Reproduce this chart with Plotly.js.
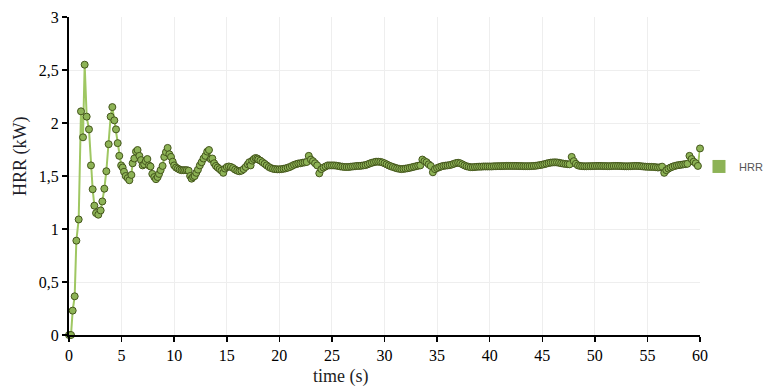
<!DOCTYPE html>
<html>
<head>
<meta charset="utf-8">
<script src="https://cdn.plot.ly/plotly-3.0.1.min.js"></script>
<style>html,body{margin:0;padding:0;background:#fff}#chart{width:765px;height:387px}</style>
</head>
<body>
<div id="chart"></div>
<script>
// Ignition / rise phase (0-5 s)
var timeRise = [0, 0.19, 0.35, 0.54, 0.70, 0.92, 1.14, 1.33, 1.49, 1.68,
  1.90, 2.09, 2.25, 2.41, 2.57, 2.79, 3.01, 3.17, 3.36, 3.55,
  3.77, 3.96, 4.12, 4.31, 4.47, 4.63, 4.78, 4.96];
var hrrRise = [0, 0, 0.23, 0.365, 0.89, 1.09, 2.11, 1.865, 2.55, 2.06,
  1.94, 1.60, 1.375, 1.22, 1.15, 1.135, 1.175, 1.26, 1.38, 1.545,
  1.80, 2.06, 2.15, 2.025, 1.94, 1.81, 1.69, 1.60];

// Damped oscillation phase (5-18 s)
var timeOsc = [5.10, 5.23, 5.39, 5.58, 5.74, 5.93, 6.05, 6.21, 6.37, 6.52,
  6.69, 6.85, 7.00, 7.15, 7.30, 7.45, 7.60, 7.75, 7.92, 8.11,
  8.27, 8.43, 8.56, 8.71, 8.90, 9.06, 9.22, 9.38, 9.54, 9.70,
  9.86, 10.00, 10.18, 10.35, 10.52, 10.70, 10.87, 11.04, 11.21, 11.38,
  11.52, 11.66, 11.80, 11.95, 12.10, 12.26, 12.44, 12.61, 12.79, 12.97,
  13.14, 13.31, 13.47, 13.63, 13.80, 13.97, 14.14, 14.32, 14.50, 14.67,
  14.84, 15.01, 15.20, 15.40, 15.60, 15.80, 16.00, 16.20, 16.40, 16.60,
  16.80, 17.00, 17.14, 17.27, 17.42, 17.58, 17.74, 17.90];
var hrrOsc = [1.58, 1.54, 1.50, 1.48, 1.46, 1.51, 1.62, 1.665, 1.73, 1.745,
  1.69, 1.65, 1.60, 1.61, 1.64, 1.66, 1.60, 1.59, 1.52, 1.49,
  1.47, 1.49, 1.52, 1.555, 1.595, 1.68, 1.725, 1.765, 1.705, 1.68,
  1.635, 1.60, 1.58, 1.57, 1.56, 1.555, 1.555, 1.555, 1.555, 1.55,
  1.50, 1.475, 1.49, 1.50, 1.53, 1.56, 1.60, 1.63, 1.665, 1.69,
  1.73, 1.745, 1.66, 1.665, 1.62, 1.595, 1.58, 1.565, 1.55, 1.53,
  1.57, 1.585, 1.59, 1.585, 1.575, 1.56, 1.55, 1.545, 1.55, 1.565,
  1.585, 1.61, 1.63, 1.60, 1.645, 1.66, 1.67, 1.665];

// Quasi-steady phase (18-60 s)
var timeSteady = [18.0, 18.2, 18.4, 18.6, 18.8, 19.0, 19.2, 19.4, 19.6, 19.8,
  20.0, 20.2, 20.4, 20.6, 20.8, 21.0, 21.2, 21.4, 21.6, 21.8,
  22.0, 22.2, 22.4, 22.6, 22.8, 23.0, 23.2, 23.4, 23.6, 23.8,
  24.0, 24.2, 24.4, 24.6, 24.8, 25.0, 25.2, 25.4, 25.6, 25.8,
  26.0, 26.2, 26.4, 26.6, 26.8, 27.0, 27.2, 27.4, 27.6, 27.8,
  28.0, 28.2, 28.4, 28.6, 28.8, 29.0, 29.2, 29.4, 29.6, 29.8,
  30.0, 30.2, 30.4, 30.6, 30.8, 31.0, 31.2, 31.4, 31.6, 31.8,
  32.0, 32.2, 32.4, 32.6, 32.8, 33.0, 33.2, 33.4, 33.6, 33.8,
  34.0, 34.2, 34.4, 34.6, 34.8, 35.0, 35.2, 35.4, 35.6, 35.8,
  36.0, 36.2, 36.4, 36.6, 36.8, 37.0, 37.2, 37.4, 37.6, 37.8,
  38.0, 38.2, 38.4, 38.6, 38.8, 39.0, 39.2, 39.4, 39.6, 39.8,
  40.0, 40.2, 40.4, 40.6, 40.8, 41.0, 41.2, 41.4, 41.6, 41.8,
  42.0, 42.2, 42.4, 42.6, 42.8, 43.0, 43.2, 43.4, 43.6, 43.8,
  44.0, 44.2, 44.4, 44.6, 44.8, 45.0, 45.2, 45.4, 45.6, 45.8,
  46.0, 46.2, 46.4, 46.6, 46.8, 47.0, 47.2, 47.4, 47.6, 47.8,
  48.0, 48.2, 48.4, 48.6, 48.8, 49.0, 49.2, 49.4, 49.6, 49.8,
  50.0, 50.2, 50.4, 50.6, 50.8, 51.0, 51.2, 51.4, 51.6, 51.8,
  52.0, 52.2, 52.4, 52.6, 52.8, 53.0, 53.2, 53.4, 53.6, 53.8,
  54.0, 54.2, 54.4, 54.6, 54.8, 55.0, 55.2, 55.4, 55.6, 55.8,
  56.0, 56.2, 56.4, 56.6, 56.8, 57.0, 57.2, 57.4, 57.6, 57.8,
  58.0, 58.2, 58.4, 58.6, 58.8, 59.0, 59.2, 59.4, 59.6, 59.8,
  60.0];
var hrrSteady = [1.655, 1.645, 1.63, 1.615, 1.60, 1.585, 1.575, 1.568, 1.565, 1.563,
  1.563, 1.565, 1.568, 1.572, 1.578, 1.585, 1.595, 1.605, 1.612, 1.618,
  1.62, 1.625, 1.628, 1.632, 1.69, 1.655, 1.64, 1.62, 1.60, 1.525,
  1.565, 1.58, 1.59, 1.60, 1.60, 1.60, 1.60, 1.598, 1.595, 1.59,
  1.588, 1.585, 1.585, 1.585, 1.588, 1.59, 1.592, 1.595, 1.595, 1.597,
  1.60, 1.603, 1.61, 1.618, 1.625, 1.63, 1.635, 1.635, 1.633, 1.628,
  1.62, 1.61, 1.60, 1.592, 1.585, 1.578, 1.572, 1.568, 1.565, 1.567,
  1.57, 1.573, 1.577, 1.582, 1.587, 1.592, 1.597, 1.60, 1.655, 1.64,
  1.63, 1.61, 1.595, 1.535, 1.565, 1.575, 1.583, 1.59, 1.595, 1.598,
  1.60, 1.603, 1.608, 1.615, 1.622, 1.625, 1.62, 1.61, 1.60, 1.592,
  1.587, 1.583, 1.583, 1.585, 1.587, 1.588, 1.588, 1.59, 1.59, 1.59,
  1.59, 1.59, 1.592, 1.592, 1.593, 1.593, 1.594, 1.594, 1.595, 1.595,
  1.595, 1.595, 1.595, 1.595, 1.594, 1.594, 1.593, 1.593, 1.593, 1.593,
  1.594, 1.595, 1.597, 1.60, 1.603, 1.607, 1.612, 1.617, 1.622, 1.626,
  1.628, 1.629, 1.628, 1.625, 1.62, 1.617, 1.614, 1.612, 1.61, 1.68,
  1.64, 1.615, 1.60, 1.595, 1.593, 1.592, 1.592, 1.593, 1.593, 1.594,
  1.594, 1.595, 1.595, 1.595, 1.594, 1.594, 1.593, 1.593, 1.594, 1.595,
  1.595, 1.595, 1.594, 1.593, 1.592, 1.592, 1.592, 1.593, 1.594, 1.595,
  1.595, 1.594, 1.592, 1.59, 1.588, 1.587, 1.586, 1.586, 1.585, 1.583,
  1.58, 1.582, 1.588, 1.53, 1.555, 1.57, 1.58, 1.588, 1.595, 1.60,
  1.603, 1.606, 1.609, 1.612, 1.615, 1.69, 1.66, 1.635, 1.62, 1.595,
  1.76];

var seriesName = 'HRR';
var xTitle = 'time (s)';
var yTitle = 'HRR (kW)';

var time = timeRise.concat(timeOsc, timeSteady);
var hrr = hrrRise.concat(hrrOsc, hrrSteady);

var serif = 'Liberation Serif, Times New Roman, serif';

var traces = [
  {
    x: time, y: hrr, type: 'scatter', mode: 'lines+markers',
    showlegend: false, cliponaxis: false,
    line: {color: '#9fc762', width: 2},
    marker: {size: 7, color: '#8db356', line: {color: '#44561c', width: 1}}
  },
  {
    x: [null], y: [null], type: 'scatter', mode: 'markers', name: seriesName,
    marker: {symbol: 'square', size: 13, color: '#8db356', line: {width: 0}}
  }
];

var layout = {
  width: 765, height: 387,
  margin: {l: 69, r: 65, t: 17, b: 52, autoexpand: false},
  paper_bgcolor: '#fff', plot_bgcolor: '#fff',
  separators: ',.',
  font: {family: serif, size: 16, color: '#000'},
  xaxis: {
    range: [0, 60], dtick: 5, tick0: 0, automargin: false,
    showline: true, linecolor: '#000', linewidth: 2,
    ticks: 'outside', ticklen: 5, tickwidth: 1.5, tickcolor: '#000',
    showgrid: true, gridcolor: '#eeeeee', gridwidth: 1, zeroline: false,
    tickfont: {family: serif, size: 16, color: '#000'}
  },
  yaxis: {
    range: [0, 3], dtick: 0.5, tick0: 0, automargin: false,
    showline: true, linecolor: '#000', linewidth: 2,
    ticks: 'outside', ticklen: 5, tickwidth: 1.5, tickcolor: '#000',
    showgrid: true, gridcolor: '#eeeeee', gridwidth: 1, zeroline: false,
    tickfont: {family: serif, size: 16, color: '#000'}
  },
  legend: {
    x: 0.9984, xanchor: 'left', y: 0.53, yanchor: 'middle',
    font: {family: 'Liberation Sans, Arial, sans-serif', size: 11, color: '#555'},
    bgcolor: 'rgba(0,0,0,0)'
  },
  annotations: [
    {text: xTitle, xref: 'paper', yref: 'paper', x: 0.431, y: -0.129,
     xanchor: 'center', yanchor: 'middle', showarrow: false,
     font: {family: serif, size: 18, color: '#1e1e1e'}},
    {text: yTitle, xref: 'paper', yref: 'paper', x: -0.076, y: 0.563,
     xanchor: 'center', yanchor: 'middle', textangle: -90, showarrow: false,
     font: {family: serif, size: 18, color: '#1e1e2a'}}
  ],
  showlegend: true
};

Plotly.newPlot('chart', traces, layout, {displayModeBar: false, staticPlot: true});
</script>
</body>
</html>
